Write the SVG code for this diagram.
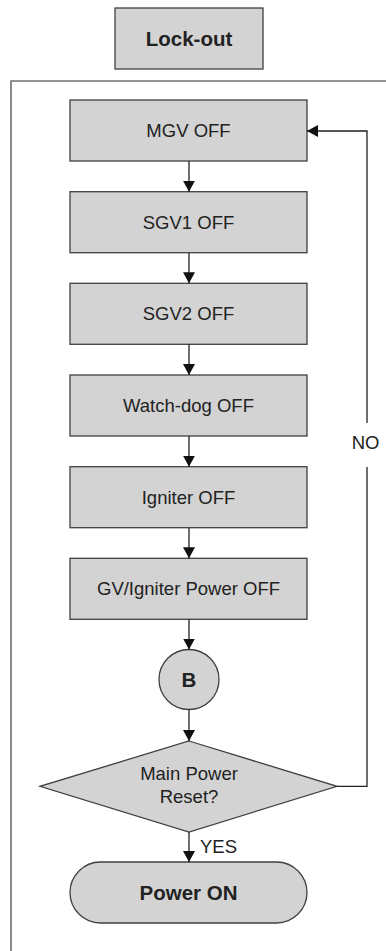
<svg xmlns="http://www.w3.org/2000/svg" width="386" height="951" viewBox="0 0 386 951">
<style>
.box{fill:#d3d3d3;stroke:#404040;stroke-width:1.3}
.t{font-family:"Liberation Sans",Arial,sans-serif;font-size:18.5px;fill:#222;text-anchor:middle}
.b{font-weight:bold;font-size:20.5px}
.c{fill:none;stroke:#222;stroke-width:1.3}
</style>
<defs>
<marker id="ah" markerWidth="12" markerHeight="12" refX="11" refY="6" orient="auto" markerUnits="userSpaceOnUse">
<path d="M0,0 L11,6 L0,12 Z" fill="#111"/>
</marker>
</defs>
<rect x="-1" y="-1" width="388" height="953" fill="#fff"/>
<g id="frame"><path d="M11,951 V81 H390" fill="none" stroke="#707070" stroke-width="1.6"/></g>
<g id="lockout"><rect class="box" x="115" y="8" width="148" height="61"/><text class="t b" x="189" y="45.5">Lock-out</text></g>
<g id="mgv"><rect class="box" x="70" y="100" width="237" height="61"/><text class="t" x="188.5" y="137">MGV OFF</text></g>
<g id="sgv1"><rect class="box" x="70" y="191.7" width="237" height="61"/><text class="t" x="188.5" y="228.7">SGV1 OFF</text></g>
<g id="sgv2"><rect class="box" x="70" y="283.3" width="237" height="61"/><text class="t" x="188.5" y="320.3">SGV2 OFF</text></g>
<g id="watchdog"><rect class="box" x="70" y="375" width="237" height="61"/><text class="t" x="188.5" y="412">Watch-dog OFF</text></g>
<g id="igniter"><rect class="box" x="70" y="466.7" width="237" height="61"/><text class="t" x="188.5" y="503.7">Igniter OFF</text></g>
<g id="gvpower"><rect class="box" x="70" y="558.3" width="237" height="61"/><text class="t" x="188.5" y="595.3">GV/Igniter Power OFF</text></g>
<g id="b"><circle class="box" cx="189" cy="679.5" r="30"/><text class="t b" x="189" y="687">B</text></g>
<g id="decision"><polygon class="box" points="189,741 337,786.3 189,832 40,786.3"/><text class="t" x="189" y="780">Main Power</text><text class="t" x="189" y="803">Reset?</text></g>
<g id="poweron"><rect class="box" x="70" y="862" width="237" height="61" rx="30.5" ry="30.5"/><text class="t b" x="188.5" y="900">Power ON</text></g>
<g id="connectors">
<line class="c" x1="189" y1="161" x2="189" y2="191.7" marker-end="url(#ah)"/>
<line class="c" x1="189" y1="252.7" x2="189" y2="283.3" marker-end="url(#ah)"/>
<line class="c" x1="189" y1="344.3" x2="189" y2="375" marker-end="url(#ah)"/>
<line class="c" x1="189" y1="436" x2="189" y2="466.7" marker-end="url(#ah)"/>
<line class="c" x1="189" y1="527.7" x2="189" y2="558.3" marker-end="url(#ah)"/>
<line class="c" x1="189" y1="619.3" x2="189" y2="649.5" marker-end="url(#ah)"/>
<line class="c" x1="189" y1="709.5" x2="189" y2="741" marker-end="url(#ah)"/>
<line class="c" x1="189" y1="832" x2="189" y2="862" marker-end="url(#ah)"/>
<path class="c" d="M337,786.3 H367 V467"/>
<path class="c" d="M367,423 V131 H307" marker-end="url(#ah)"/>
<text class="t" x="365.5" y="448.5">NO</text>
<text class="t" x="200" y="853" style="text-anchor:start">YES</text>
</g>
</svg>
